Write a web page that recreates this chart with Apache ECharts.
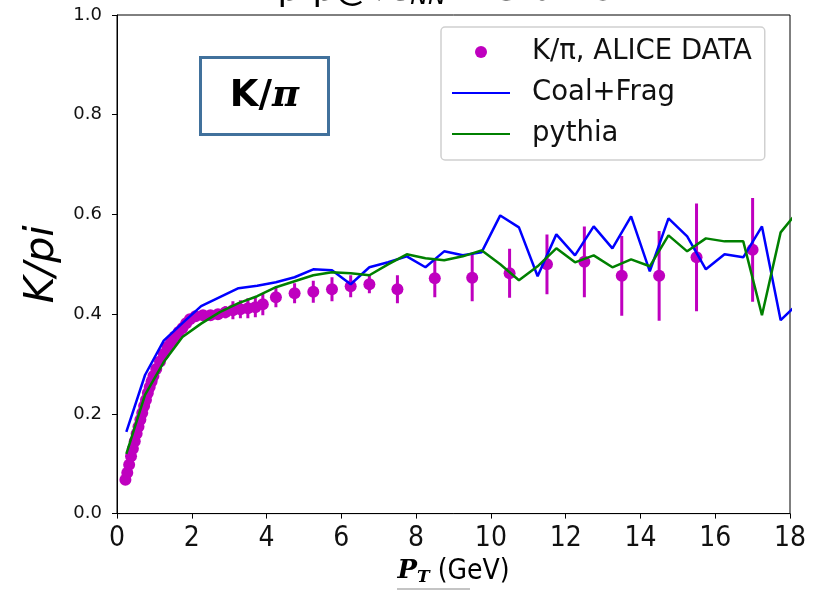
<!DOCTYPE html>
<html><head><meta charset="utf-8">
<script src="https://cdn.jsdelivr.net/npm/echarts@6/dist/echarts.min.js"></script>
<style>html,body{margin:0;padding:0;background:#fff}#c{width:821px;height:591px}</style>
</head><body><div id="c"></div>
<script>
// ALICE K/pi data: pT, value, error
const dataPt  = [0.225,0.275,0.325,0.375,0.425,0.475,0.525,0.575,0.625,0.675,0.725,0.775,0.825,0.875,0.925,0.975,
                 1.05,1.15,1.25,1.35,1.45,1.55,1.65,1.75,1.85,1.95,2.1,2.3,2.5,2.7,2.9,3.1,3.3,3.5,3.7,3.9,
                 4.25,4.75,5.25,5.75,6.25,6.75,7.5,8.5,9.5,10.5,11.5,12.5,13.5,14.5,15.5,17.0];
const dataVal = [0.068,0.082,0.098,0.115,0.130,0.145,0.160,0.174,0.188,0.202,0.216,0.228,0.242,0.254,0.265,0.276,
                 0.290,0.305,0.320,0.334,0.345,0.355,0.364,0.372,0.382,0.390,0.396,0.398,0.398,0.400,0.404,0.408,0.410,0.412,0.414,0.420,
                 0.434,0.442,0.445,0.450,0.456,0.460,0.450,0.472,0.473,0.482,0.500,0.505,0.477,0.477,0.514,0.529];
const dataErr = [0.003,0.003,0.003,0.003,0.003,0.003,0.003,0.003,0.003,0.003,0.003,0.003,0.003,0.003,0.003,0.003,
                 0.004,0.004,0.004,0.004,0.004,0.004,0.005,0.005,0.005,0.005,0.006,0.006,0.008,0.010,0.012,0.018,0.018,0.020,0.020,0.022,
                 0.020,0.020,0.022,0.024,0.022,0.018,0.028,0.038,0.047,0.049,0.060,0.071,0.080,0.090,0.108,0.104];
// model curves
const modelPt  = [0.25,0.75,1.25,1.75,2.25,2.75,3.25,3.75,4.25,4.75,5.25,5.75,6.25,6.75,7.25,7.75,8.25,8.75,9.25,9.75,
                  10.25,10.75,11.25,11.75,12.25,12.75,13.25,13.75,14.25,14.75,15.25,15.75,16.25,16.75,17.25,17.75,18.25];
const coalFrag = [0.164,0.278,0.347,0.382,0.416,0.434,0.452,0.457,0.464,0.474,0.490,0.488,0.460,0.494,0.504,0.516,0.494,0.526,0.518,0.524,
                  0.598,0.574,0.476,0.560,0.518,0.576,0.532,0.596,0.486,0.592,0.556,0.490,0.520,0.514,0.576,0.388,0.424];
const pythia   = [0.120,0.238,0.304,0.354,0.381,0.404,0.422,0.436,0.454,0.466,0.478,0.484,0.482,0.478,0.500,0.520,0.512,0.508,0.516,0.528,
                  0.500,0.468,0.496,0.532,0.504,0.518,0.494,0.510,0.496,0.558,0.526,0.552,0.546,0.546,0.398,0.564,0.610];
const seriesNames = ['K/\u03c0, ALICE DATA','Coal+Frag','pythia'];

const chart = echarts.init(document.getElementById('c'), null, {renderer:'canvas'});
const pts = dataPt.map((x,i)=>[x,dataVal[i]]);
const errs = dataPt.map((x,i)=>[x,dataVal[i],dataErr[i]]);
const toPairs = arr => modelPt.map((x,i)=>[x,arr[i]]);
const MAG = '#bf00bf';
const COND = "'DejaVu Sans Condensed', 'DejaVu Sans', sans-serif";
chart.setOption({
  animation:false,
  backgroundColor:'#fff',
  grid:{left:117,right:31,top:15,bottom:76,show:true,borderColor:'#000',borderWidth:1,backgroundColor:'transparent'},
  legend:{
    data:[{name:seriesNames[0]},
          {name:seriesNames[1],itemStyle:{opacity:0}},
          {name:seriesNames[2],itemStyle:{opacity:0}}],
    orient:'vertical', left:441, top:27,
    itemWidth:58, itemHeight:12, itemGap:11,
    padding:[10,13,11,10],
    backgroundColor:'#fff', borderColor:'#d0d0d0', borderWidth:1.5, borderRadius:4,
    textStyle:{fontFamily:'DejaVu Sans',fontSize:27.5,color:'#111',lineHeight:30,padding:[0,0,0,17]}
  },
  xAxis:{
    type:'value', min:0, max:18, interval:2,
    axisLine:{show:true,onZero:false,lineStyle:{color:'#000',width:1}},
    axisTick:{show:true,inside:false,length:5,lineStyle:{color:'#000'}},
    splitLine:{show:false},
    axisLabel:{fontFamily:COND,fontSize:28,color:'#111',margin:11},
    name:'{p|P}{t|T}{g| (GeV)}', nameLocation:'middle', nameGap:40,
    nameTextStyle:{rich:{
      p:{fontFamily:'DejaVu Serif',fontStyle:'italic',fontWeight:'bold',fontSize:26,color:'#000'},
      t:{fontFamily:'DejaVu Serif',fontStyle:'italic',fontWeight:'bold',fontSize:17,color:'#000',padding:[12,0,0,0]},
      g:{fontFamily:COND,fontSize:28,color:'#000'}
    }}
  },
  yAxis:{
    type:'value', min:0, max:1, interval:0.2,
    axisLine:{show:true,onZero:false,lineStyle:{color:'#000',width:1}},
    axisTick:{show:true,inside:false,length:5,lineStyle:{color:'#000'}},
    splitLine:{show:false},
    axisLabel:{fontFamily:'DejaVu Sans',fontSize:18,color:'#111',margin:15,formatter:v=>v.toFixed(1)},
    name:'K/pi', nameLocation:'middle', nameGap:52, nameRotate:90,
    nameTextStyle:{fontFamily:'DejaVu Sans',fontStyle:'italic',fontSize:41,color:'#000'}
  },
  graphic:[
    {type:'text',x:457,y:-9,style:{text:'{a|p-p@\u221as}{b|NN}{a| = 5.02TeV}',align:'center',verticalAlign:'middle',
      rich:{a:{fontFamily:'DejaVu Sans',fontSize:35,fill:'#000'},
            b:{fontFamily:'DejaVu Sans',fontStyle:'italic',fontSize:24,fill:'#000',padding:[14,0,0,0]}}}},
    {type:'group',left:199,top:56,children:[
      {type:'rect',shape:{x:0,y:0,width:128,height:77},style:{fill:'#fff',stroke:'#41719c',lineWidth:3}},
      {type:'text',x:64,y:39,style:{text:'{k|K/}{q|\u03c0}',align:'center',verticalAlign:'middle',
        rich:{k:{fontFamily:'DejaVu Sans',fontWeight:'bold',fontSize:37,fill:'#000'},
              q:{fontFamily:'DejaVu Serif',fontWeight:'bold',fontStyle:'italic',fontSize:37,fill:'#000'}}}}
    ]},
    {type:'line',shape:{x1:397,y1:589,x2:470,y2:589},style:{stroke:'#b0b0b0',lineWidth:1.5}}
  ],
  series:[
    {type:'custom', name:'errbars', z:2, data:errs, clip:true,
     renderItem:(params,api)=>{
       const x=api.value(0), y=api.value(1), e=api.value(2);
       const p1=api.coord([x,y-e]), p2=api.coord([x,y+e]);
       return {type:'line',shape:{x1:p1[0],y1:p1[1],x2:p2[0],y2:p2[1]},style:{stroke:MAG,lineWidth:3}};
     }},
    {type:'scatter', name:seriesNames[0], z:2, data:pts, symbol:'circle', symbolSize:12, itemStyle:{color:MAG,opacity:1}},
    {type:'line', name:seriesNames[1], z:3, data:toPairs(coalFrag), symbol:'none', showSymbol:false, clip:true,
     lineStyle:{color:'#0000ff',width:2.5}, itemStyle:{color:'#0000ff'}},
    {type:'line', name:seriesNames[2], z:4, data:toPairs(pythia), symbol:'none', showSymbol:false, clip:true,
     lineStyle:{color:'#008000',width:2.5}, itemStyle:{color:'#008000'}}
  ]
});
</script></body></html>
